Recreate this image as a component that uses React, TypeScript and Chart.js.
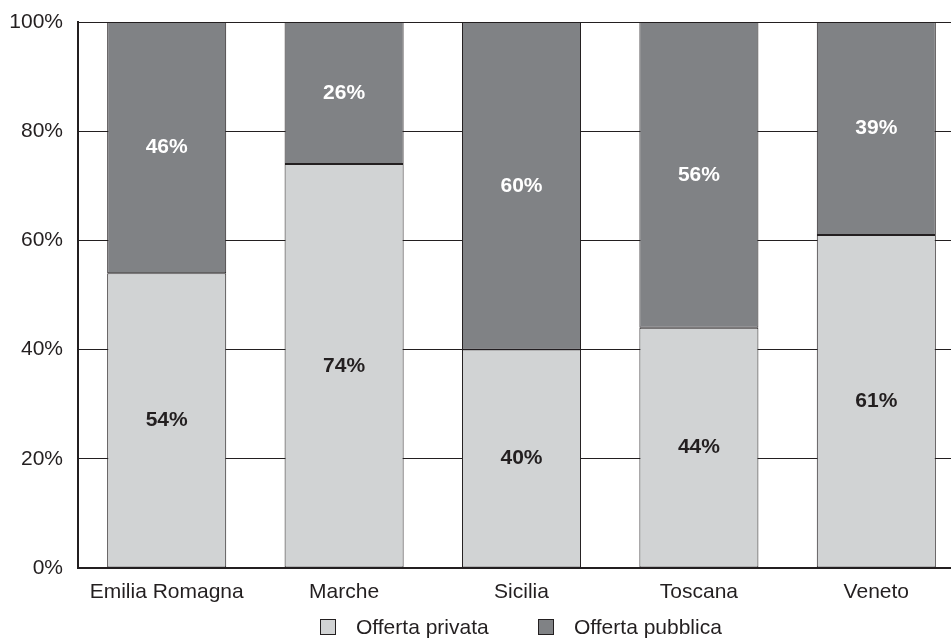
import React, { useEffect, useRef } from "react";
import { Chart, registerables } from "chart.js";

Chart.register(...registerables);

const categories = ["Emilia Romagna", "Marche", "Sicilia", "Toscana", "Veneto"];
const privata = [54, 74, 40, 44, 61];
const pubblica = [46, 26, 60, 56, 39];
const seriesLabels = ["Offerta privata", "Offerta pubblica"];
const yTicks = [0, 20, 40, 60, 80, 100];

const FONT = "'Liberation Sans', Arial, sans-serif";
const INK = "#231f20";
const LIGHT = "#d1d3d4";
const DARK = "#808285";

const labelPlugin = {
  id: "segLabels",
  afterDatasetsDraw(chart: any) {
    const ctx = chart.ctx;
    ctx.save();
    ctx.font = `bold 21px ${FONT}`;
    ctx.textAlign = "center";
    ctx.textBaseline = "middle";
    chart.data.datasets.forEach((ds: any, di: number) => {
      const meta = chart.getDatasetMeta(di);
      meta.data.forEach((el: any, i: number) => {
        const y = (el.y + el.base) / 2;
        ctx.fillStyle = di === 0 ? INK : "#ffffff";
        ctx.fillText(`${ds.data[i]}%`, el.x, y);
      });
    });
    ctx.restore();
  },
};

const legendPlugin = {
  id: "customLegend",
  afterDraw(chart: any) {
    const ctx = chart.ctx;
    ctx.save();
    ctx.font = `21px ${FONT}`;
    ctx.textBaseline = "middle";
    ctx.textAlign = "left";
    const box = 16;
    const gapText = 20;
    const gapItem = 49;
    const items = chart.data.datasets.map((ds: any) => ({
      text: ds.label,
      color: ds.backgroundColor,
      w: box + gapText + ctx.measureText(ds.label).width,
    }));
    const total = items.reduce((s: number, it: any) => s + it.w, 0) + gapItem * (items.length - 1);
    const center = (chart.chartArea.left + 951) / 2 + 6;
    let x = Math.round(center - total / 2);
    const cy = 627;
    items.forEach((it: any) => {
      const bx = Math.round(x);
      ctx.fillStyle = it.color;
      ctx.fillRect(bx + 0.5, cy - box / 2 + 0.5, box - 1, box - 1);
      ctx.strokeStyle = INK;
      ctx.lineWidth = 1;
      ctx.strokeRect(bx + 0.5, cy - box / 2 + 0.5, box - 1, box - 1);
      ctx.fillStyle = INK;
      ctx.fillText(it.text, bx + box + gapText, cy + 1);
      x += it.w + gapItem;
    });
    ctx.restore();
  },
};

export default function App() {
  const ref = useRef<HTMLCanvasElement | null>(null);
  useEffect(() => {
    if (!ref.current) return;
    const chart = new Chart(ref.current, {
      type: "bar",
      data: {
        labels: categories,
        datasets: [
          {
            label: seriesLabels[0],
            data: privata,
            backgroundColor: LIGHT,
            borderColor: INK,
            borderWidth: 1,
            borderSkipped: false,
          },
          {
            label: seriesLabels[1],
            data: pubblica,
            backgroundColor: DARK,
            borderColor: INK,
            borderWidth: 1,
            borderSkipped: false,
          },
        ],
      },
      options: {
        responsive: false,
        animation: false,
        devicePixelRatio: 1,
        layout: { padding: { top: 22, right: 5, bottom: 26, left: 0 } },
        datasets: { bar: { categoryPercentage: 1, barPercentage: 0.671 } },
        plugins: {
          legend: { display: false },
          tooltip: { enabled: false },
        },
        scales: {
          x: {
            stacked: true,
            grid: { display: false },
            border: { display: true, color: INK, width: 2 },
            ticks: {
              color: INK,
              font: { family: FONT, size: 21 },
              padding: 4,
              maxRotation: 0,
              minRotation: 0,
              autoSkip: false,
            },
            afterFit: (s: any) => {
              s.height = 45;
              s.paddingLeft = 0;
              s.paddingRight = 0;
            },
          },
          y: {
            stacked: true,
            min: 0,
            max: 100,
            afterBuildTicks: (s: any) => {
              s.ticks = yTicks.map((v) => ({ value: v }));
            },
            grid: { color: INK, lineWidth: 1, drawTicks: false },
            border: { display: true, color: INK, width: 2 },
            ticks: {
              color: INK,
              font: { family: FONT, size: 21 },
              padding: 15,
              callback: (v: any) => `${v}%`,
            },
            afterFit: (s: any) => {
              s.width = 78;
              s.paddingTop = 0;
              s.paddingBottom = 0;
            },
          },
        },
      },
      plugins: [labelPlugin, legendPlugin],
    });
    return () => chart.destroy();
  }, []);
  return (
    <div
      style={{
        position: "fixed",
        left: 0,
        top: 0,
        width: 951,
        height: 639,
        overflow: "hidden",
        background: "#fff",
      }}
    >
      <canvas ref={ref} width={970} height={639} style={{ width: 970, height: 639, display: "block" }} />
    </div>
  );
}
